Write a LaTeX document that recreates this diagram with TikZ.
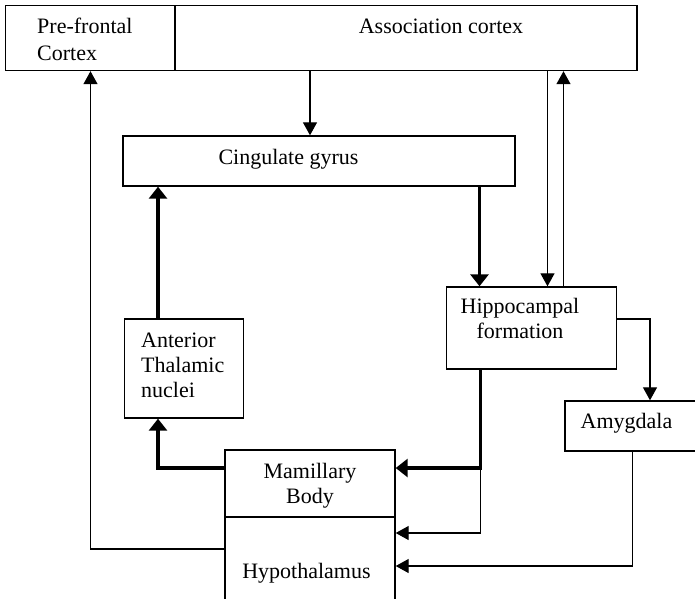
\documentclass[tikz,border=0pt]{standalone}
\usepackage{fontspec}
\setmainfont{Liberation Serif}
\usetikzlibrary{arrows.meta}
\begin{document}
\begin{tikzpicture}[x=1pt,y=-1pt,
  box/.style={draw,line width=1.4pt,inner sep=0pt,minimum width=#1},
  lbl/.style={inner sep=0pt,font=\fontsize{22}{25}\selectfont,align=#1},
  lbl/.default=center,
  thinline/.style={line width=1.3pt,-{Triangle[length=13pt,width=14pt]}},
  thickline/.style={line width=3.2pt,-{Triangle[length=12pt,width=18pt]}}]
\useasboundingbox (0,0) rectangle (695,598);
\clip (0,0) rectangle (695,598);

% boxes
\node[box=170pt,minimum height=65pt] (pfc)   at (90.5,38) {};
\node[box=462pt,minimum height=65pt] (assoc) at (406,38) {};
\node[box=392pt,minimum height=50pt] (cing)  at (319,161) {};
\node[box=170pt,minimum height=82pt] (hip)   at (531.5,328) {};
\node[box=135pt,minimum height=50pt] (amyg)  at (632.5,426) {};
\node[box=119pt,minimum height=99pt] (ant)   at (184,368.5) {};
\node[box=170pt,minimum height=67pt] (mam)   at (310,483.5) {};
\node[box=170pt,minimum height=93pt] (hyp)   at (310,563.5) {};

% labels (base anchor = baseline of the last line)
\node[lbl=left,anchor=base west,font=\fontsize{22}{27}\selectfont] (tpfc) at (37,60) {Pre-frontal\\Cortex};
\node[lbl,anchor=base] (tassoc) at (441,33) {Association cortex};
\node[lbl,anchor=base] (tcing) at (288.5,164) {Cingulate gyrus};
\node[lbl=left,anchor=base west] (tant) at (141,397) {Anterior\\Thalamic\\nuclei};
\node[lbl,anchor=base] (thip) at (520,338) {Hippocampal\\formation};
\node[lbl,anchor=base] (tamyg) at (626.5,428) {Amygdala};
\node[lbl,anchor=base] (tmam) at (310,503) {Mamillary\\Body};
\node[lbl,anchor=base] (thyp) at (306.5,578) {Hypothalamus};

% connectors
\draw[thinline] ([xshift=-9pt]cing.north |- assoc.south) -- ([xshift=-9pt]cing.north);
\draw[thickline] ([xshift=-26pt]ant.north) -- ([xshift=-26pt]ant.north |- cing.south);
\draw[thickline] ([xshift=-52pt]hip.north |- cing.south) -- ([xshift=-52pt]hip.north);
\draw[thinline] ([xshift=16pt]hip.north |- assoc.south) -- ([xshift=16pt]hip.north);
\draw[thinline] ([xshift=32pt]hip.north) -- ([xshift=32pt]hip.north |- assoc.south);
\draw[thinline] ([yshift=9pt]hip.east) -| ([xshift=17.5pt]amyg.north);
\draw[thinline] (amyg.south) |- ([yshift=-2.5pt]hyp.east);
\draw[thinline] ([xshift=-51pt]hip.south) |- ([yshift=30.5pt]hyp.east);
\draw[thickline] ([xshift=-51pt]hip.south) |- ([yshift=15.5pt]mam.east);
\draw[thickline] ([yshift=15.5pt]mam.west) -| ([xshift=-26pt]ant.south);
\draw[thinline] ([yshift=14.5pt]hyp.west) -| (pfc.south);
\end{tikzpicture}
\end{document}
